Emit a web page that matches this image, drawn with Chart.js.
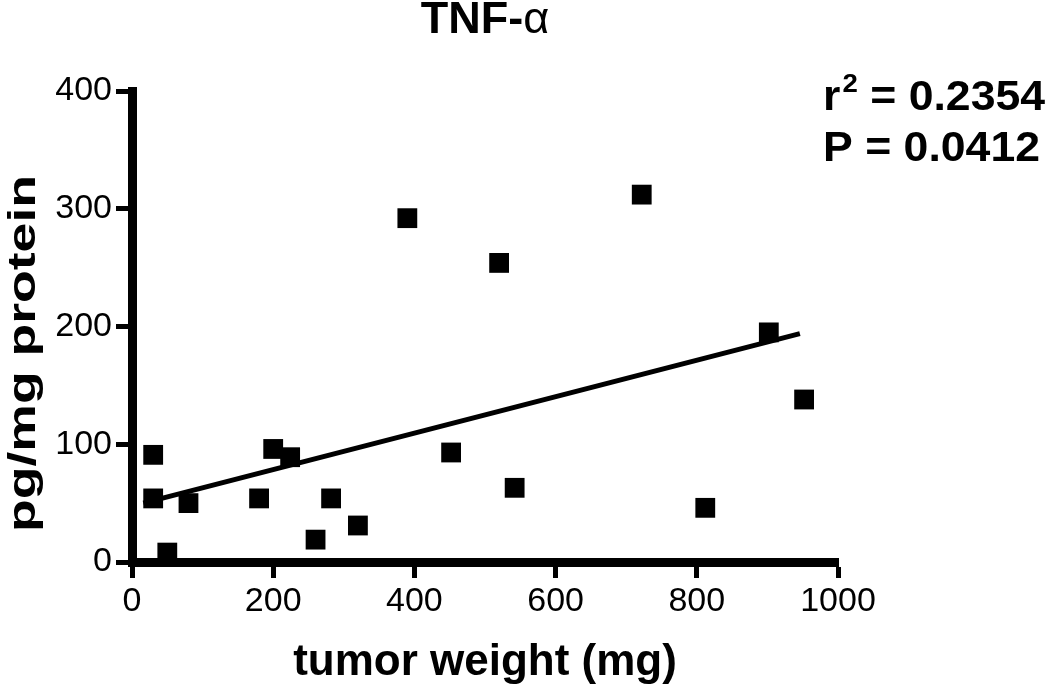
<!DOCTYPE html>
<html>
<head>
<meta charset="utf-8">
<script src="https://cdn.jsdelivr.net/npm/chart.js@4"></script>
<style>
html,body{margin:0;padding:0;background:#fff;}
#wrap{width:1050px;height:685px;position:relative;}
</style>
</head>
<body>
<div id="wrap"><canvas id="c" width="1050" height="685"></canvas></div>
<script>
// ---- data ----
const titleMain = 'TNF-';
const titleGreek = 'α';
const xAxisTitle = 'tumor weight (mg)';
const yAxisTitle = 'pg/mg protein';
const statR = ['r', '2', ' = 0.2354'];
const statP = 'P = 0.0412';
const tumorWeight = [30, 30, 50, 80, 180, 200, 224, 260, 282, 320, 390, 452, 520, 542, 722, 812, 902, 952];
const tnfAlpha    = [91, 54,  8, 50,  54,  96,  89,  19,  54,  31, 292,  93, 254,  63, 312,  46, 195, 138];
const fitX = [16, 946];
const fitY = [50, 194];
const xTicks = [0, 200, 400, 600, 800, 1000];
const yTicks = [0, 100, 200, 300, 400];

const FONT = '"Liberation Sans", Arial, Helvetica, sans-serif';
Chart.defaults.font.family = FONT;
Chart.defaults.color = '#000';

const points = tumorWeight.map((x, i) => ({x: x, y: tnfAlpha[i]}));
const fitLine = fitX.map((x, i) => ({x: x, y: fitY[i]}));

const textPlugin = {
  id: 'textPlugin',
  afterDraw(chart) {
    const ctx = chart.ctx;
    const area = chart.chartArea;
    ctx.save();
    ctx.fillStyle = '#000';
    // title
    ctx.textBaseline = 'alphabetic';
    ctx.textAlign = 'left';
    ctx.font = 'bold 45px ' + FONT;
    const w1 = ctx.measureText(titleMain).width;
    ctx.font = '45px ' + FONT;
    const w2 = ctx.measureText(titleGreek).width;
    const cx = (area.left + area.right) / 2;
    const tx = cx - (w1 + w2) / 2;
    ctx.font = 'bold 45px ' + FONT;
    ctx.fillText(titleMain, tx, 33);
    ctx.font = '45px ' + FONT;
    ctx.fillText(titleGreek, tx + w1, 33);

    // stats (left aligned)
    ctx.font = 'bold 42px ' + FONT;
    const wp = ctx.measureText(statP).width;
    const sx = 217 / wp;
    ctx.save();
    ctx.translate(823, 0);
    ctx.scale(sx, 1);
    ctx.fillText(statP, 0, 161);
    const wr = ctx.measureText(statR[0]).width;
    ctx.fillText(statR[0], 0, 110);
    ctx.font = 'bold 26px ' + FONT;
    const w2s = ctx.measureText(statR[1]).width;
    ctx.fillText(statR[1], wr + 2, 92);
    ctx.font = 'bold 42px ' + FONT;
    ctx.fillText(statR[2], wr + 2 + w2s, 110);
    ctx.restore();

    // y axis title (stretched along its length as in the reference)
    ctx.font = 'bold 38px ' + FONT;
    const wy = ctx.measureText(yAxisTitle).width;
    const stretch = 357 / wy;
    ctx.translate(35, 353.5);
    ctx.rotate(-Math.PI / 2);
    ctx.scale(stretch, 1);
    ctx.textAlign = 'center';
    ctx.fillText(yAxisTitle, 0, 0);
    ctx.restore();
  }
};

new Chart(document.getElementById('c'), {
  type: 'scatter',
  data: {
    datasets: [
      {
        label: 'TNF-α',
        data: points,
        pointStyle: 'rect',
        pointRadius: 14,
        pointHoverRadius: 14,
        backgroundColor: '#000',
        borderWidth: 0,
        showLine: false,
        clip: false
      },
      {
        label: 'fit',
        data: fitLine,
        showLine: true,
        borderColor: '#000',
        borderWidth: 5,
        pointRadius: 0,
        fill: false,
        clip: false
      }
    ]
  },
  options: {
    responsive: false,
    animation: false,
    devicePixelRatio: 1,
    layout: {padding: {top: 91, right: 212, bottom: 0, left: 0}},
    plugins: {
      legend: {display: false},
      title: {display: false},
      tooltip: {enabled: false}
    },
    scales: {
      x: {
        type: 'linear',
        position: 'bottom',
        min: 0,
        max: 1000,
        afterBuildTicks: (s) => { s.ticks = xTicks.map(v => ({value: v})); },
        afterFit: (s) => { s.height = 123; },
        ticks: {
          font: {size: 34},
          color: '#000',
          padding: 3,
          maxRotation: 0,
          autoSkip: false,
          callback: (v) => String(v)
        },
        grid: {
          display: true,
          drawOnChartArea: false,
          drawTicks: true,
          tickLength: 16,
          tickWidth: 5,
          tickColor: '#000'
        },
        border: {display: true, width: 9, color: '#000'},
        title: {
          display: true,
          text: xAxisTitle,
          color: '#000',
          font: {size: 44, weight: 'bold', lineHeight: 1.0},
          padding: {top: 0, bottom: 0}
        }
      },
      y: {
        type: 'linear',
        position: 'left',
        min: 0,
        max: 400,
        afterBuildTicks: (s) => { s.ticks = yTicks.map(v => ({value: v})); },
        afterFit: (s) => { s.width = 132; },
        ticks: {
          font: {size: 34},
          color: '#000',
          padding: 4,
          autoSkip: false,
          callback: (v) => String(v)
        },
        grid: {
          display: true,
          drawOnChartArea: false,
          drawTicks: true,
          tickLength: 16,
          tickWidth: 5,
          tickColor: '#000'
        },
        border: {display: true, width: 9, color: '#000'},
        title: {display: false}
      }
    }
  },
  plugins: [textPlugin]
});
</script>
</body>
</html>
